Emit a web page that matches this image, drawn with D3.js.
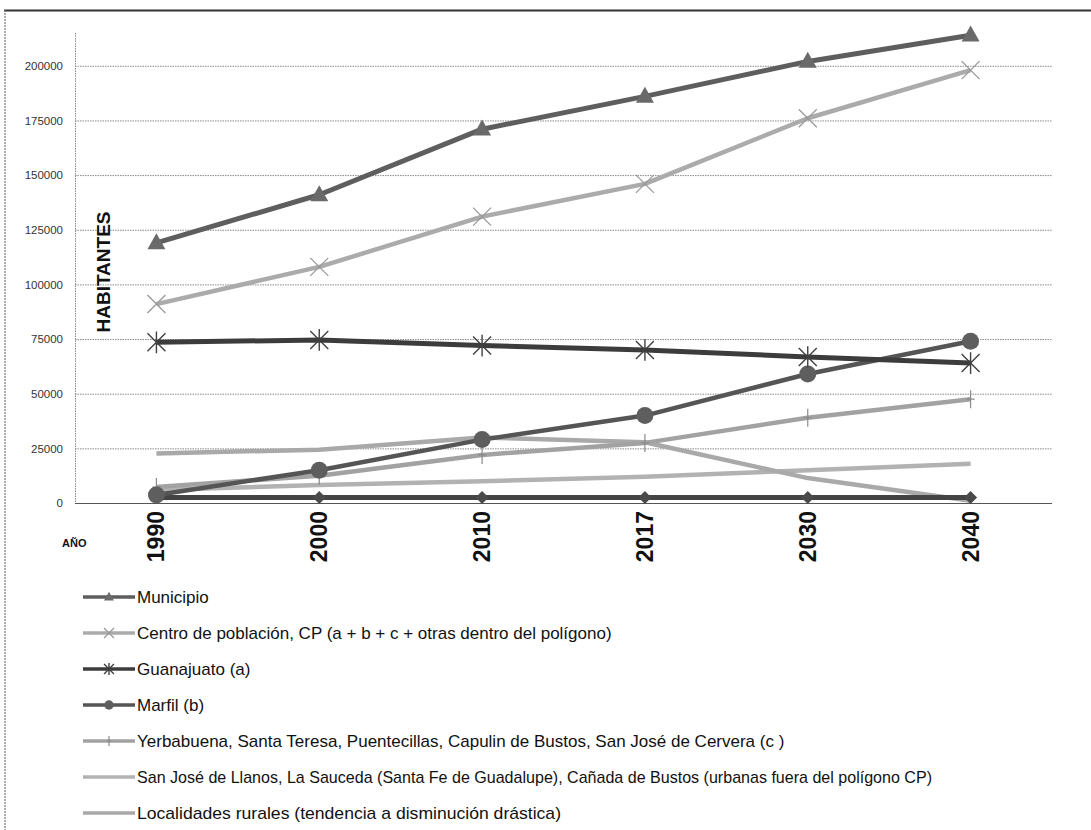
<!DOCTYPE html>
<html>
<head>
<meta charset="utf-8">
<script src="https://cdn.jsdelivr.net/npm/d3@7"></script>
<style>
  html, body { margin: 0; padding: 0; background: #fff; }
  svg { display: block; font-family: "Liberation Sans", Arial, sans-serif; }
</style>
</head>
<body>
<svg id="chart" width="1091" height="830"></svg>
<script>
// ---- data ----
const years = ["1990", "2000", "2010", "2017", "2030", "2040"];
const yTicks = [0, 25000, 50000, 75000, 100000, 125000, 150000, 175000, 200000];

const municipio   = [119000, 141000, 171000, 186000, 202000, 214000];
const centro      = [91000, 108000, 131000, 146000, 176000, 198000];
const guanajuato  = [73500, 74600, 72000, 70000, 66800, 64000];
const marfil      = [3700, 15000, 29000, 40000, 59000, 74000];
const yerbabuena  = [7300, 12500, 22000, 27500, 39000, 47500];
const sanJose     = [6000, 8200, 10000, 12000, 15000, 18000];
const rurales     = [22700, 24400, 30000, 27800, 11400, 1000];
const otra        = [2500, 2500, 2500, 2500, 2500, 2500];

const seriesNames = [
  "Municipio",
  "Centro de población, CP (a + b + c + otras dentro del polígono)",
  "Guanajuato (a)",
  "Marfil (b)",
  "Yerbabuena, Santa Teresa, Puentecillas, Capulin de Bustos, San José de Cervera (c )",
  "San José de Llanos, La Sauceda (Santa Fe de Guadalupe), Cañada de Bustos (urbanas fuera del polígono CP)",
  "Localidades rurales (tendencia a disminución drástica)"
];
const axisTitleY = "HABITANTES";
const axisTitleX = "AÑO";

// ---- styles (not data) ----
const series = [
  { name: seriesNames[0], values: municipio,  color: "#5e5e5e", width: 5,   marker: "triangle", mcolor: "#6a6a6a", legend: true },
  { name: seriesNames[1], values: centro,     color: "#ababab", width: 4.5, marker: "x",        mcolor: "#9a9a9a", legend: true },
  { name: seriesNames[2], values: guanajuato, color: "#3c3c3c", width: 5,   marker: "asterisk", mcolor: "#404040", legend: true },
  { name: seriesNames[3], values: marfil,     color: "#555555", width: 4.5, marker: "circle",   mcolor: "#5e5e5e", legend: true },
  { name: seriesNames[4], values: yerbabuena, color: "#a2a2a2", width: 4.5, marker: "plus",     mcolor: "#8a8a8a", legend: true },
  { name: seriesNames[5], values: sanJose,    color: "#b2b2b2", width: 4.5, marker: "none",     mcolor: "#b2b2b2", legend: true, fit: 795 },
  { name: seriesNames[6], values: rurales,    color: "#a9a9a9", width: 4.5, marker: "none",     mcolor: "#a9a9a9", legend: true, fit: 424 },
  { name: "",             values: otra,       color: "#444444", width: 5,   marker: "diamond",  mcolor: "#4a4a4a", legend: false }
];
// draw order (back to front)
const drawOrder = [5, 6, 4, 7, 3, 2, 1, 0];

const svg = d3.select("#chart");

// outer frame
svg.append("line").attr("x1", 4).attr("x2", 1091).attr("y1", 10.5).attr("y2", 10.5)
  .attr("stroke", "#333").attr("stroke-width", 2);
svg.append("line").attr("x1", 5).attr("x2", 5).attr("y1", 10).attr("y2", 830)
  .attr("stroke", "#777").attr("stroke-width", 1.2).attr("stroke-dasharray", "2,1");

const plot = { left: 75, right: 1052, top: 33, bottom: 503 };

const x = d3.scaleBand().domain(years).range([plot.left, plot.right]).padding(0);
const y = d3.scaleLinear().domain([0, 215000]).range([plot.bottom, plot.top]);
const cx = d => x(d) + x.bandwidth() / 2;

// gridlines
const grid = svg.append("g").attr("transform", `translate(${plot.left},0)`)
  .call(d3.axisLeft(y).tickValues(yTicks.filter(t => t > 0)).tickSize(-(plot.right - plot.left)).tickFormat(""));
grid.select(".domain").remove();
grid.selectAll(".tick line").attr("stroke", "#8a8a8a").attr("stroke-width", 1).attr("stroke-dasharray", "1.5,1");

// y axis line
svg.append("line").attr("x1", plot.left + 0.5).attr("x2", plot.left + 0.5)
  .attr("y1", plot.top).attr("y2", plot.bottom)
  .attr("stroke", "#888").attr("stroke-width", 1).attr("stroke-dasharray", "1.5,1");

// y tick labels
const yAxis = svg.append("g").attr("transform", `translate(${plot.left},0)`)
  .call(d3.axisLeft(y).tickValues(yTicks).tickSize(0).tickPadding(12).tickFormat(d3.format("d")));
yAxis.select(".domain").remove();
yAxis.selectAll("text").attr("font-size", 11.5).attr("fill", "#333")
  .attr("font-family", "'Liberation Sans', Arial, sans-serif");

// x baseline
svg.append("line").attr("x1", plot.left).attr("x2", plot.right)
  .attr("y1", plot.bottom + 0.5).attr("y2", plot.bottom + 0.5)
  .attr("stroke", "#555").attr("stroke-width", 1.2);

// x axis labels
const xAxis = svg.append("g").attr("transform", `translate(0,${plot.bottom})`)
  .call(d3.axisBottom(x).tickSize(0).tickPadding(0));
xAxis.select(".domain").remove();
xAxis.selectAll("text")
  .attr("font-size", 23).attr("font-weight", "bold").attr("fill", "#111")
  .attr("font-family", "'Liberation Sans', Arial, sans-serif")
  .attr("transform", "rotate(-90)")
  .attr("text-anchor", "end")
  .attr("x", -8).attr("y", 0).attr("dy", "0.35em");

// axis titles
svg.append("text").attr("x", 62).attr("y", 547).attr("font-size", 11).attr("font-weight", "bold")
  .attr("fill", "#111").text(axisTitleX);
svg.append("text").attr("transform", "translate(110,272) rotate(-90)")
  .attr("text-anchor", "middle").attr("font-size", 19).attr("font-weight", "bold")
  .attr("fill", "#111").text(axisTitleY);

// marker drawing
function drawMarker(g, type, px, py, color, scale) {
  const s = scale || 1;
  if (type === "triangle") {
    const h = 16 * s, w = 18 * s;
    g.append("path").attr("d", `M${px},${py - h * 0.6}L${px + w / 2},${py + h * 0.4}L${px - w / 2},${py + h * 0.4}Z`)
      .attr("fill", color);
  } else if (type === "x") {
    const r = 9 * s;
    g.append("path").attr("d", `M${px - r},${py - r}L${px + r},${py + r}M${px - r},${py + r}L${px + r},${py - r}`)
      .attr("stroke", color).attr("stroke-width", 1.3).attr("fill", "none");
  } else if (type === "asterisk") {
    const r = 9 * s;
    g.append("path").attr("d", `M${px - r},${py - r}L${px + r},${py + r}M${px - r},${py + r}L${px + r},${py - r}M${px},${py - r * 1.2}L${px},${py + r * 1.2}`)
      .attr("stroke", color).attr("stroke-width", 1.4).attr("fill", "none");
  } else if (type === "circle") {
    g.append("circle").attr("cx", px).attr("cy", py).attr("r", 8.5 * s).attr("fill", color);
  } else if (type === "plus") {
    const r = 9 * s;
    g.append("path").attr("d", `M${px},${py - r}L${px},${py + r}M${px - 4 * s},${py}L${px + 4 * s},${py}`)
      .attr("stroke", color).attr("stroke-width", 1.2).attr("fill", "none");
  } else if (type === "diamond") {
    const r = 6.5 * s;
    g.append("path").attr("d", `M${px},${py - r}L${px + r},${py}L${px},${py + r}L${px - r},${py}Z`)
      .attr("fill", color);
  }
}

const line = d3.line().x((d, i) => cx(years[i])).y(d => y(d));

const linesG = svg.append("g");
drawOrder.forEach(idx => {
  const s = series[idx];
  const g = linesG.append("g");
  g.append("path").datum(s.values).attr("d", line)
    .attr("fill", "none").attr("stroke", s.color).attr("stroke-width", s.width)
    .attr("stroke-linejoin", "round");
  s.values.forEach((v, i) => drawMarker(g, s.marker, cx(years[i]), y(v), s.mcolor, 1));
});

// legend
const legendTop = 597, legendStep = 36;
const lg = svg.append("g");
series.filter(s => s.legend).forEach((s, i) => {
  const yy = legendTop + i * legendStep;
  lg.append("line").attr("x1", 83).attr("x2", 135).attr("y1", yy).attr("y2", yy)
    .attr("stroke", s.color).attr("stroke-width", 3.5);
  drawMarker(lg, s.marker, 109, yy, s.mcolor, 0.55);
  const t = lg.append("text").attr("x", 137).attr("y", yy).attr("dy", "0.36em")
    .attr("font-size", 17).attr("fill", "#111").text(s.name);
  if (s.fit) t.attr("textLength", s.fit).attr("lengthAdjust", "spacingAndGlyphs");
});
</script>
</body>
</html>
